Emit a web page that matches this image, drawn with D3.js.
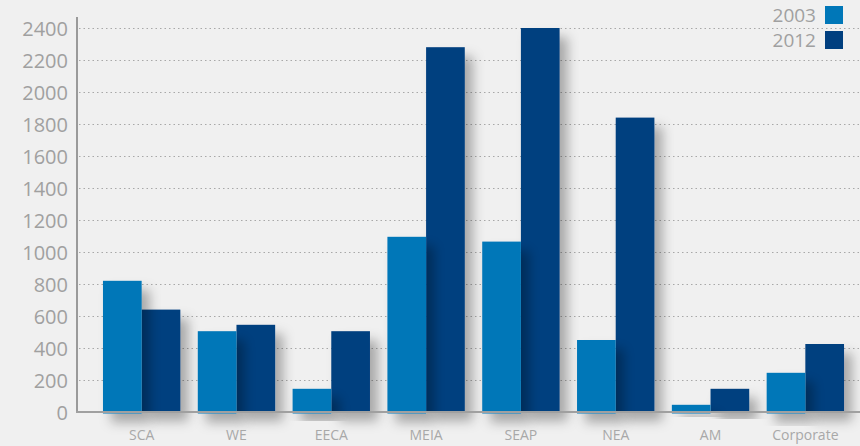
<!DOCTYPE html>
<html><head><meta charset="utf-8">
<script src="https://cdn.jsdelivr.net/npm/d3@7"></script>
<style>
html,body{margin:0;padding:0;background:#f0f0f0;}
svg{display:block;font-family:"Open Sans",sans-serif;}
</style></head>
<body>
<svg id="chart" width="860" height="446"></svg>
<script>
const categories = ["SCA","WE","EECA","MEIA","SEAP","NEA","AM","Corporate"];
const seriesNames = ["2003","2012"];
const values2003 = [820, 505, 145, 1095, 1065, 450, 45, 245];
const values2012 = [640, 545, 505, 2280, 2400, 1840, 145, 425];
const yTicks = [0,200,400,600,800,1000,1200,1400,1600,1800,2000,2200,2400];
const colors = {"2003":"#0077b8","2012":"#003f7f"};

const svg = d3.select("#chart");
const W = 860, H = 446;
svg.append("rect").attr("width",W).attr("height",H).attr("fill","#f0f0f0");

const defs = svg.append("defs");
const f = defs.append("filter").attr("id","sh").attr("x","-30%").attr("y","-30%").attr("width","180%").attr("height","160%");
f.append("feDropShadow").attr("dx",8).attr("dy",9).attr("stdDeviation",6)
  .attr("flood-color","#000").attr("flood-opacity",0.3);

const y = d3.scaleLinear().domain([0,2400]).range([412,28]);
const x0 = d3.scaleBand().domain(categories).range([94.25,852.75]).paddingInner(0.184).paddingOuter(0.092);
const x1 = d3.scaleBand().domain(seriesNames).range([0,x0.bandwidth()]);

// gridlines
svg.append("g").selectAll("line").data(yTicks.filter(d=>d>0)).join("line")
  .attr("x1",79).attr("x2",W).attr("y1",d=>Math.round(y(d))+0.5).attr("y2",d=>Math.round(y(d))+0.5)
  .attr("stroke","#a8a8a8").attr("stroke-width",1).attr("stroke-dasharray","1.5,3");

// y axis labels
const yAxis = d3.axisLeft(y).tickValues(yTicks).tickFormat(d3.format("d")).tickSize(0).tickPadding(9);
const ga = svg.append("g").attr("transform","translate(77,0)").call(yAxis);
ga.select(".domain").remove();
ga.selectAll("text").attr("font-size",20).attr("fill","#a0a0a0").attr("font-family","'Open Sans',sans-serif").attr("dy","0.35em");

// bars: 2012 first, then 2003 so its shadow falls on the 2012 bar
const groups = categories.map((c,i)=>({c, v2003:values2003[i], v2012:values2012[i]}));
svg.append("g").selectAll("rect").data(groups).join("rect")
  .attr("x",d=>x0(d.c)+x1("2012")).attr("width",x1.bandwidth())
  .attr("y",d=>y(d.v2012)).attr("height",d=>y(0)-y(d.v2012))
  .attr("fill",colors["2012"]).attr("filter","url(#sh)");
svg.append("g").selectAll("rect").data(groups).join("rect")
  .attr("x",d=>x0(d.c)+x1("2003")).attr("width",x1.bandwidth())
  .attr("y",d=>y(d.v2003)).attr("height",d=>y(0)-y(d.v2003)+1.5)
  .attr("fill",colors["2003"]).attr("filter","url(#sh)");

// axes lines
svg.append("line").attr("x1",77).attr("x2",77).attr("y1",17).attr("y2",413)
  .attr("stroke","#9a9a9a").attr("stroke-width",2);
svg.append("line").attr("x1",76).attr("x2",W).attr("y1",412).attr("y2",412)
  .attr("stroke","#a0a0a0").attr("stroke-width",2);

// x labels
const xAxis = d3.axisBottom(x0).tickSize(0).tickPadding(18);
const gx = svg.append("g").attr("transform","translate(0,412)").call(xAxis);
gx.select(".domain").remove();
gx.selectAll("text").attr("font-size",14).attr("fill","#a8a8a8").attr("font-family","'Open Sans',sans-serif");

// legend
const lg = svg.append("g").selectAll("g").data(seriesNames).join("g")
  .attr("transform",(d,i)=>`translate(0,${i*25})`);
lg.append("rect").attr("x",825).attr("y",6).attr("width",18).attr("height",18).attr("fill",d=>colors[d]);
lg.append("text").attr("x",816).attr("y",15).attr("dy","0.35em").attr("text-anchor","end")
  .attr("font-size",19).attr("fill","#a0a0a0").text(d=>d);
</script>
</body></html>
